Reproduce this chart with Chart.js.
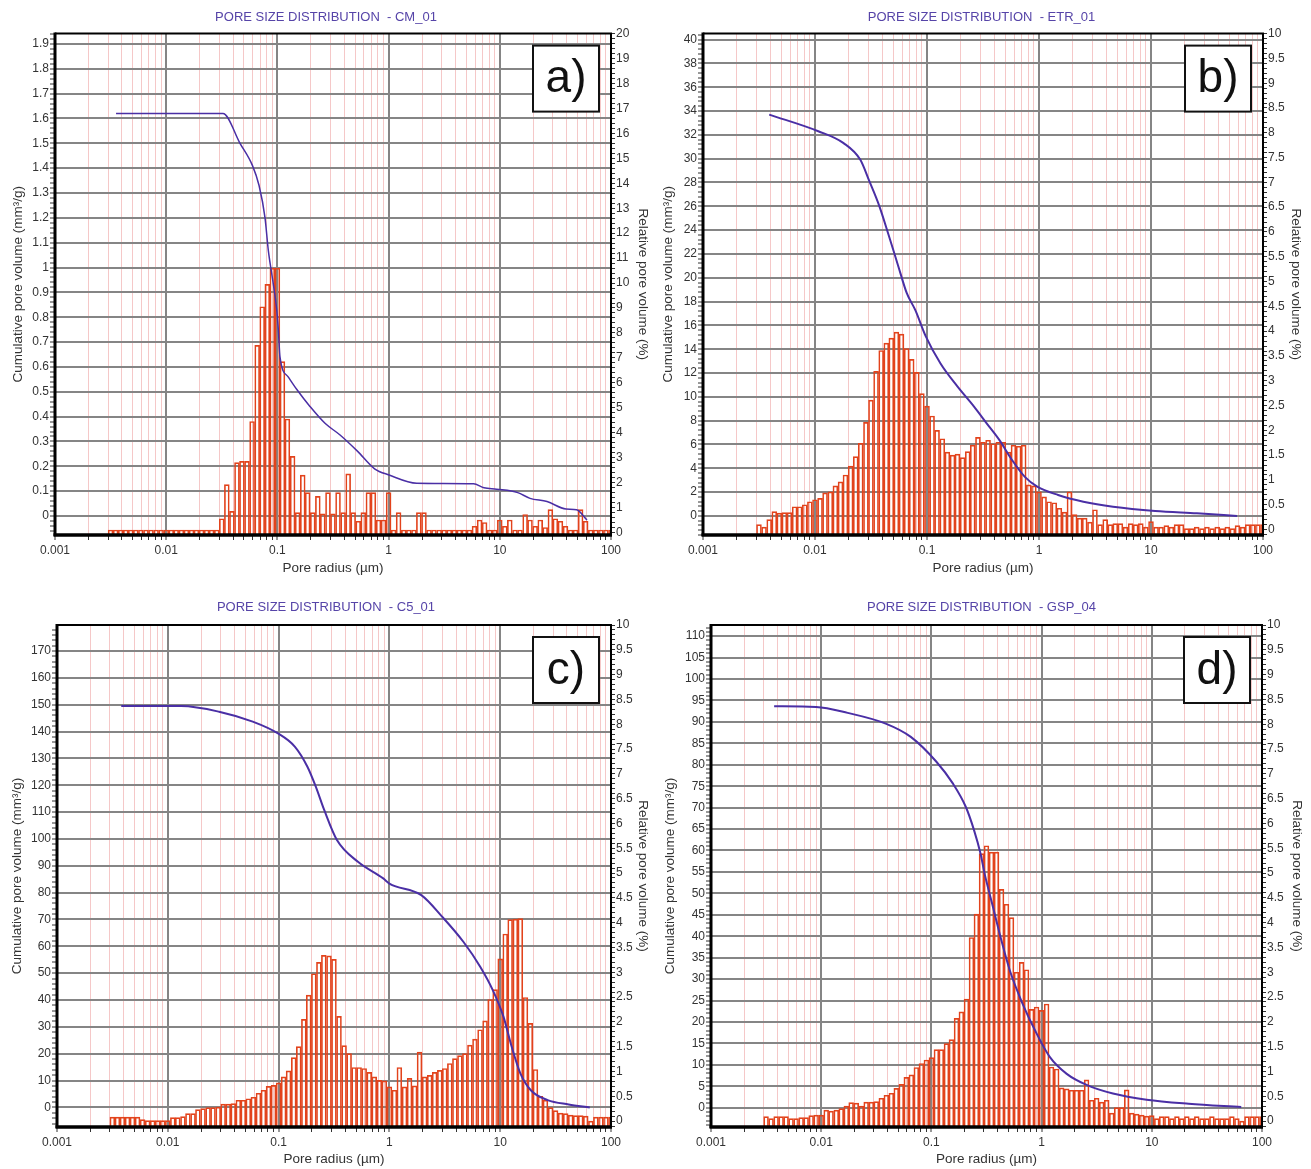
<!DOCTYPE html>
<html>
<head>
<meta charset="utf-8">
<title>Pore size distribution</title>
<script src="https://cdn.jsdelivr.net/npm/chart.js@4.4.1/dist/chart.umd.min.js"></script>
<style>
  body { margin: 0; background: #fff; }
  #wrap { position: relative; width: 1311px; height: 1169px; overflow: hidden; background: #fff; }
  canvas { position: absolute; }
</style>
</head>
<body>
<div id="wrap">
  <canvas id="chartA" width="652" height="588" style="left:0;top:0"></canvas>
  <canvas id="chartB" width="659" height="588" style="left:652px;top:0"></canvas>
  <canvas id="chartC" width="652" height="581" style="left:0;top:588px"></canvas>
  <canvas id="chartD" width="659" height="581" style="left:652px;top:588px"></canvas>
</div>
<script>
// pore radius of each histogram bin (µm), same bins for all four samples
const radii = [
  0.00316, 0.00351, 0.0039, 0.00433, 0.0048, 0.00533, 0.00592, 0.00658, 0.0073, 0.00811, 0.009,
  0.01, 0.0111, 0.0123, 0.0137, 0.0152, 0.0169, 0.0187, 0.0208, 0.0231, 0.0256, 0.0285,
  0.0316, 0.0351, 0.039, 0.0433, 0.048, 0.0533, 0.0592, 0.0658, 0.073, 0.0811, 0.09,
  0.1, 0.111, 0.123, 0.137, 0.152, 0.169, 0.187, 0.208, 0.231, 0.256, 0.285,
  0.316, 0.351, 0.39, 0.433, 0.48, 0.533, 0.592, 0.658, 0.73, 0.811, 0.9,
  1, 1.11, 1.23, 1.37, 1.52, 1.69, 1.87, 2.08, 2.31, 2.56, 2.85,
  3.16, 3.51, 3.9, 4.33, 4.8, 5.33, 5.92, 6.58, 7.3, 8.11, 9,
  10, 11.1, 12.3, 13.7, 15.2, 16.9, 18.7, 20.8, 23.1, 25.6, 28.5,
  31.6, 35.1, 39, 43.3, 48, 53.3, 59.2, 65.8, 73, 81.1, 90, 100
];

// relative pore volume (%) per bin
const relA = [
  0.1, 0.1, 0.1, 0.1, 0.1, 0.1, 0.1, 0.1, 0.1, 0.1,
  0.1, 0.1, 0.1, 0.1, 0.1, 0.1, 0.1, 0.1, 0.1, 0.1,
  0.1, 0.1, 0.55, 1.92, 0.85, 2.8, 2.85, 2.85, 4.45, 7.5,
  9.05, 9.95, 10.6, 10.6, 6.85, 4.55, 3.05, 0.8, 2.3, 1.6,
  0.8, 1.45, 0.75, 1.6, 0.75, 1.6, 0.8, 2.35, 0.8, 0.45,
  0.8, 1.6, 1.6, 0.5, 0.5, 1.6, 0.1, 0.8, 0.1, 0.1,
  0.1, 0.8, 0.8, 0.1, 0.1, 0.1, 0.1, 0.1, 0.1, 0.1,
  0.1, 0.1, 0.25, 0.5, 0.4, 0.1, 0.1, 0.5, 0.25, 0.5,
  0.1, 0.1, 0.72, 0.5, 0.25, 0.5, 0.2, 0.92, 0.55, 0.45,
  0.25, 0.1, 0.1, 0.92, 0.45, 0.1, 0.1, 0.1, 0.1, 0.1
];
const relB = [
  0.1, 0.05, 0.2, 0.36, 0.33, 0.34, 0.34, 0.46, 0.46, 0.5,
  0.56, 0.6, 0.63, 0.74, 0.76, 0.88, 0.96, 1.1, 1.28, 1.47,
  1.74, 2.16, 2.61, 3.19, 3.61, 3.76, 3.86, 3.98, 3.94, 3.65,
  3.43, 3.17, 2.74, 2.49, 2.29, 2.0, 1.83, 1.56, 1.5, 1.52,
  1.45, 1.57, 1.7, 1.86, 1.76, 1.8, 1.73, 1.76, 1.76, 1.56,
  1.7, 1.68, 1.7, 0.9, 0.88, 0.76, 0.66, 0.56, 0.54, 0.43,
  0.35, 0.76, 0.3, 0.23, 0.23, 0.15, 0.4, 0.1, 0.2, 0.1,
  0.12, 0.12, 0.05, 0.12, 0.1, 0.12, 0.05, 0.16, 0.05, 0.05,
  0.08, 0.05, 0.1, 0.1, 0.02, 0.02, 0.05, 0.02, 0.05, 0.02,
  0.05, 0.02, 0.05, 0.02, 0.08, 0.05, 0.1, 0.1, 0.1, 0.1
];
const relC = [
  0.08, 0.08, 0.08, 0.08, 0.08, 0.08, 0.03, 0.01, 0.01, 0.01,
  0.01, 0.01, 0.07, 0.07, 0.09, 0.15, 0.15, 0.23, 0.25, 0.27,
  0.27, 0.28, 0.34, 0.34, 0.35, 0.42, 0.42, 0.45, 0.48, 0.56,
  0.62, 0.7, 0.72, 0.77, 0.89, 1.01, 1.28, 1.5, 2.05, 2.54,
  2.97, 3.2, 3.34, 3.33, 3.26, 2.11, 1.52, 1.36, 1.08, 1.08,
  1.06, 0.98, 0.89, 0.82, 0.81, 0.69, 0.62, 1.08, 0.69, 0.86,
  0.71, 1.39, 0.89, 0.92, 0.98, 1.02, 1.06, 1.16, 1.26, 1.32,
  1.36, 1.53, 1.65, 1.84, 2.02, 2.45, 2.65, 3.27, 3.77, 4.06,
  4.07, 4.08, 2.49, 1.97, 1.04, 0.5, 0.42, 0.27, 0.21, 0.16,
  0.15, 0.12, 0.11, 0.11, 0.1, 0.0, 0.08, 0.08, 0.08, 0.08
];
const relD = [
  0.09, 0.05, 0.09, 0.09, 0.09, 0.05, 0.05, 0.07, 0.07, 0.11,
  0.12, 0.12, 0.22, 0.2, 0.22, 0.25, 0.3, 0.37, 0.36, 0.3,
  0.38, 0.38, 0.39, 0.46, 0.52, 0.56, 0.66, 0.74, 0.88, 0.93,
  1.08, 1.16, 1.23, 1.28, 1.44, 1.44, 1.56, 1.64, 2.07, 2.2,
  2.46, 3.7, 4.17, 5.39, 5.55, 5.42, 5.42, 4.67, 4.37, 4.1,
  3.0, 3.2, 3.05, 2.25, 2.3, 2.23, 2.36, 1.09, 1.05, 0.67,
  0.65, 0.62, 0.62, 0.62, 0.83, 0.42, 0.46, 0.38, 0.42, 0.16,
  0.27, 0.27, 0.63, 0.16, 0.14, 0.12, 0.1, 0.11, 0.05, 0.09,
  0.09, 0.05, 0.09, 0.05, 0.09, 0.05, 0.09, 0.05, 0.05, 0.09,
  0.05, 0.05, 0.05, 0.09, 0.05, 0.0, 0.09, 0.09, 0.09, 0.09
];

// cumulative pore volume curves (mm³/g)
const cumRadiusA = [0.00354, 0.0324, 0.0461, 0.0597, 0.0684, 0.0774, 0.0828, 0.0907, 0.0986, 0.1019, 0.1055, 0.125, 0.149, 0.197, 0.268, 0.366, 0.527, 0.748, 1.01, 1.79, 5.8, 7.2, 9.36, 14.5, 18.7, 26.6, 39.4, 49, 60.8];
const cumVolumeA = [1.62, 1.62, 1.5, 1.41, 1.33, 1.2, 1.07, 0.95, 0.83, 0.75, 0.64, 0.56, 0.51, 0.44, 0.373, 0.326, 0.26, 0.19, 0.165, 0.132, 0.13, 0.114, 0.108, 0.094, 0.071, 0.058, 0.028, 0.025, -0.016];
const cumRadiusB = [0.0039, 0.0107, 0.018, 0.0254, 0.0303, 0.0376, 0.0447, 0.0555, 0.066, 0.0785, 0.0973, 0.132, 0.186, 0.263, 0.341, 0.442, 0.574, 0.744, 0.964, 1.48, 2.49, 4.58, 10.9, 25.7, 58.6];
const cumVolumeB = [33.7, 32.3, 31.3, 29.9, 28.2, 26.0, 23.8, 20.95, 18.7, 17.3, 15.1, 12.8, 10.9, 9.18, 7.78, 6.39, 4.7, 3.3, 2.46, 1.76, 1.2, 0.78, 0.42, 0.22, 0.0];
const cumRadiusC = [0.0038, 0.0132, 0.029, 0.0584, 0.0988, 0.14, 0.182, 0.217, 0.258, 0.336, 0.52, 0.88, 1.0, 1.94, 3.0, 4.65, 6.6, 8.57, 10.7, 12.7, 15.2, 18.9, 26.8, 41.5, 64.3];
const cumVolumeC = [149.5, 149.5, 147.4, 143.7, 139.3, 134.4, 126.9, 119.4, 110.8, 99.6, 91.5, 85.3, 83.4, 79.1, 71, 61.7, 52.4, 43.7, 33.8, 22.6, 12.7, 6.4, 2.7, 1.1, 0];
const cumRadiusD = [0.00374, 0.009, 0.0174, 0.0385, 0.065, 0.111, 0.157, 0.205, 0.244, 0.279, 0.304, 0.362, 0.432, 0.515, 0.671, 0.873, 1.19, 1.69, 2.62, 4.44, 8.97, 21.6, 64.8];
const cumVolumeD = [93.65, 93.5, 92.1, 89.6, 86.5, 80.7, 75.6, 70.2, 64.7, 59.3, 54.6, 46.8, 39, 32, 24.3, 18, 11.8, 7.9, 5.2, 3.3, 1.87, 0.93, 0.15];

// tick labels
const xTickLabels = ['0.001', '0.01', '0.1', '1', '10', '100'];
const leftTicksA = ['0', '0.1', '0.2', '0.3', '0.4', '0.5', '0.6', '0.7', '0.8', '0.9', '1', '1.1', '1.2', '1.3', '1.4', '1.5', '1.6', '1.7', '1.8', '1.9'];
const leftTicksB = ['0', '2', '4', '6', '8', '10', '12', '14', '16', '18', '20', '22', '24', '26', '28', '30', '32', '34', '36', '38', '40'];
const leftTicksC = ['0', '10', '20', '30', '40', '50', '60', '70', '80', '90', '100', '110', '120', '130', '140', '150', '160', '170'];
const leftTicksD = ['0', '5', '10', '15', '20', '25', '30', '35', '40', '45', '50', '55', '60', '65', '70', '75', '80', '85', '90', '95', '100', '105', '110'];
const rightTicksA = ['0', '1', '2', '3', '4', '5', '6', '7', '8', '9', '10', '11', '12', '13', '14', '15', '16', '17', '18', '19', '20'];
const rightTicksBCD = ['0', '0.5', '1', '1.5', '2', '2.5', '3', '3.5', '4', '4.5', '5', '5.5', '6', '6.5', '7', '7.5', '8', '8.5', '9', '9.5', '10'];

const FONT = "'Liberation Sans', Arial, sans-serif";
const TXT = '#333';
const GRID = '#858585';
const PINK = '#f5c8c8';
const RED = '#e2431c';
const LINE = '#4a2fa5';

Chart.defaults.font.family = FONT;

// decades plus 2..9 in between, labels only on decades
function logTicks(scale) {
  const out = [];
  for (let e = -3; e <= 2; e++) {
    for (let m = 1; m <= 9; m++) {
      const v = +(m * Math.pow(10, e)).toPrecision(3);
      if (v > 100) break;
      out.push({ value: v, main: m === 1, lbl: m === 1 ? xTickLabels[e + 3] : '' });
    }
  }
  scale.ticks = out;
}

// labelled ticks from the list, with unlabelled minor ticks in between
function linTicks(labels, sub) {
  return function (scale) {
    const v0 = Number(labels[0]);
    const step = (Number(labels[1]) - v0) / sub;
    const first = Math.ceil((scale.min - v0) / step - 1e-6);
    const last = Math.floor((scale.max - v0) / step + 1e-6);
    const out = [];
    for (let i = first; i <= last; i++) {
      const j = i / sub;
      const main = i % sub === 0 && j >= 0 && j < labels.length;
      out.push({ value: v0 + i * step, main: main, lbl: main ? labels[j] : '' });
    }
    scale.ticks = out;
  };
}

const frame = {
  id: 'frame',
  afterDatasetsDraw(chart) {
    const { ctx, chartArea: a } = chart;
    ctx.save();
    ctx.strokeStyle = '#000';
    const seg = (x1, y1, x2, y2, w) => {
      ctx.lineWidth = w;
      ctx.beginPath();
      ctx.moveTo(x1, y1);
      ctx.lineTo(x2, y2);
      ctx.stroke();
    };
    seg(a.left, a.top, a.right + 1, a.top, 2);
    seg(a.right, a.top, a.right, a.bottom, 2);
    seg(a.left, a.top - 1, a.left, a.bottom + 1, 3);
    seg(a.left - 1.5, a.bottom, a.right + 1, a.bottom, 3.5);
    ctx.restore();
  }
};

const tagBox = {
  id: 'tagBox',
  afterDraw(chart, args, opts) {
    const { ctx, chartArea: a } = chart;
    const s = 66, x = a.right - 12 - s, y = a.top + 12;
    ctx.save();
    ctx.fillStyle = '#fff';
    ctx.fillRect(x, y, s, s);
    ctx.lineWidth = 2;
    ctx.strokeStyle = '#111';
    ctx.strokeRect(x, y, s, s);
    ctx.fillStyle = '#111';
    ctx.font = '46px ' + FONT;
    ctx.textAlign = 'center';
    ctx.textBaseline = 'middle';
    ctx.fillText(opts.text, x + s / 2, y + s / 2 + 1);
    ctx.restore();
  }
};

function makeChart(p) {
  const tickFont = { family: FONT, size: 12 };
  const titleFont = { family: FONT, size: 13.5 };
  const byLabel = (v, i, ticks) => ticks[i].lbl;

  return new Chart(document.getElementById(p.id), {
    type: 'line',
    data: {
      datasets: [
        {
          type: 'line',
          data: p.lineR.map((r, i) => ({ x: r, y: p.lineV[i] })),
          yAxisID: 'yL',
          borderColor: LINE,
          borderWidth: p.lineW,
          pointRadius: 0,
          cubicInterpolationMode: 'monotone',
          fill: false,
          order: 0
        },
        {
          type: 'bar',
          data: radii.map((r, i) => ({ x: r, y: p.rel[i] })),
          yAxisID: 'yR',
          base: p.rMin,
          borderColor: RED,
          borderWidth: 1,
          backgroundColor: 'rgba(0,0,0,0)',
          categoryPercentage: 1,
          barPercentage: 1,
          order: 1
        }
      ]
    },
    options: {
      responsive: false,
      animation: false,
      devicePixelRatio: 1,
      layout: { padding: 0 },
      plugins: {
        legend: { display: false },
        tooltip: { enabled: false },
        title: {
          display: true,
          text: p.title,
          color: '#5644a8',
          font: { family: FONT, size: 13, weight: 'normal' },
          padding: p.titlePad
        },
        tagBox: { text: p.tag }
      },
      scales: {
        x: {
          type: 'logarithmic',
          min: 0.001,
          max: 100,
          offset: false,
          afterBuildTicks: logTicks,
          afterFit: s => { s.height = p.xH; },
          border: { display: false },
          grid: {
            offset: false,
            color: c => (c.tick && c.tick.main ? GRID : PINK),
            lineWidth: c => (c.tick && c.tick.main ? 2 : 1),
            tickColor: '#333',
            tickLength: 5,
            tickWidth: 1
          },
          ticks: { autoSkip: false, maxRotation: 0, minRotation: 0, padding: 3, color: TXT, font: tickFont, callback: byLabel },
          title: { display: true, text: 'Pore radius (µm)', color: TXT, font: titleFont, padding: { top: 0, bottom: p.xTitlePad } }
        },
        yL: {
          type: 'linear',
          position: 'left',
          min: p.lMin,
          max: p.lMax,
          afterBuildTicks: linTicks(p.leftTicks, 5),
          afterFit: s => { s.width = p.lW; },
          border: { display: false },
          grid: {
            color: c => (c.tick && c.tick.main ? GRID : 'rgba(0,0,0,0)'),
            lineWidth: 2,
            tickColor: '#333',
            tickLength: 5,
            tickWidth: 1
          },
          ticks: { autoSkip: false, padding: 1, color: TXT, font: tickFont, callback: byLabel },
          title: { display: true, text: 'Cumulative pore volume (mm³/g)', color: TXT, font: titleFont, padding: { top: p.lTitlePad, bottom: 0 } }
        },
        yR: {
          type: 'linear',
          position: 'right',
          min: p.rMin,
          max: p.rMax,
          afterBuildTicks: linTicks(p.rightTicks, 5),
          afterFit: s => { s.width = p.rW; },
          border: { display: false },
          grid: { drawOnChartArea: false, tickColor: '#333', tickLength: 4, tickWidth: 1 },
          ticks: { autoSkip: false, padding: 1, color: TXT, font: tickFont, callback: byLabel },
          title: { display: true, text: 'Relative pore volume (%)', color: TXT, font: titleFont, padding: { top: p.rTitlePad, bottom: 0 } }
        }
      }
    },
    plugins: [frame, tagBox]
  });
}

makeChart({
  id: 'chartA', title: 'PORE SIZE DISTRIBUTION  - CM_01', tag: 'a)',
  rel: relA, lineR: cumRadiusA, lineV: cumVolumeA, lineW: 1.5,
  leftTicks: leftTicksA, rightTicks: rightTicksA,
  lMin: -0.0765, lMax: 1.9415, rMin: -0.1, rMax: 20,
  lW: 55, rW: 41, xH: 53, titlePad: { top: 10, bottom: 8 }, xTitlePad: 12, lTitlePad: 10, rTitlePad: 1
});
makeChart({
  id: 'chartB', title: 'PORE SIZE DISTRIBUTION  - ETR_01', tag: 'b)',
  rel: relB, lineR: cumRadiusB, lineV: cumVolumeB, lineW: 2,
  leftTicks: leftTicksB, rightTicks: rightTicksBCD,
  lMin: -1.6, lMax: 40.5, rMin: -0.11, rMax: 10,
  lW: 51, rW: 48, xH: 53, titlePad: { top: 10, bottom: 8 }, xTitlePad: 12, lTitlePad: 8, rTitlePad: 7
});
makeChart({
  id: 'chartC', title: 'PORE SIZE DISTRIBUTION  - C5_01', tag: 'c)',
  rel: relC, lineR: cumRadiusC, lineV: cumVolumeC, lineW: 2,
  leftTicks: leftTicksC, rightTicks: rightTicksBCD,
  lMin: -7.3, lMax: 179.7, rMin: -0.12, rMax: 10,
  lW: 57, rW: 41, xH: 42, titlePad: { top: 12, bottom: 9.4 }, xTitlePad: 2, lTitlePad: 9, rTitlePad: 1
});
makeChart({
  id: 'chartD', title: 'PORE SIZE DISTRIBUTION  - GSP_04', tag: 'd)',
  rel: relD, lineR: cumRadiusD, lineV: cumVolumeD, lineW: 2,
  leftTicks: leftTicksD, rightTicks: rightTicksBCD,
  lMin: -4.5, lMax: 112.6, rMin: -0.12, rMax: 10,
  lW: 59, rW: 49, xH: 42, titlePad: { top: 12, bottom: 9.4 }, xTitlePad: 2, lTitlePad: 10, rTitlePad: 6
});
</script>
</body>
</html>
